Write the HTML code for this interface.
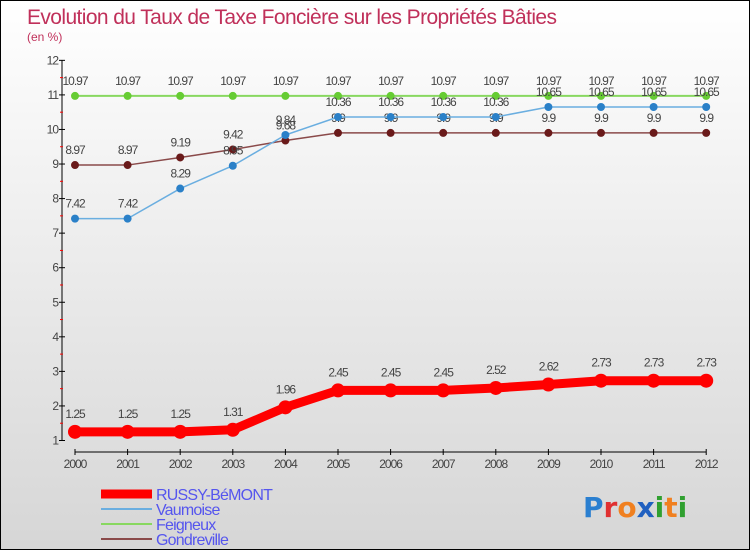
<!DOCTYPE html>
<html><head><meta charset="utf-8"><style>
html,body{margin:0;padding:0}
body{width:750px;height:550px;overflow:hidden;font-family:"Liberation Sans",sans-serif}
#wrap{position:relative;width:748px;height:548px;border:1px solid #000;background:linear-gradient(#ffffff,#d6d6d6)}
</style></head><body>
<div id="wrap">
<svg id="chart" width="748" height="548" style="position:absolute;left:0;top:0">
<text x="26" y="23" font-size="21" fill="#c0305a" letter-spacing="-0.6">Evolution du Taux de Taxe Foncière sur les Propriétés Bâties</text>
<text x="26" y="40" font-size="12" fill="#c0305a">(en %)</text>
<g id="axes"></g><g id="series"></g><g id="legend"></g>
<text x="582" y="516" font-size="28" font-weight="bold" font-family="DejaVu Sans,sans-serif"><tspan fill="#2a7fd0">P</tspan><tspan fill="#e03030">r</tspan><tspan fill="#f08020">o</tspan><tspan fill="#2060c0">x</tspan><tspan fill="#30a030">i</tspan><tspan fill="#f08020">t</tspan><tspan fill="#30a030">i</tspan></text>
</svg>
</div>
<script>
const years=[2000,2001,2002,2003,2004,2005,2006,2007,2008,2009,2010,2011,2012];
const russy=[1.25,1.25,1.25,1.31,1.96,2.45,2.45,2.45,2.52,2.62,2.73,2.73,2.73];
const vaumoise=[7.42,7.42,8.29,8.95,9.84,10.36,10.36,10.36,10.36,10.65,10.65,10.65,10.65];
const feigneux=[10.97,10.97,10.97,10.97,10.97,10.97,10.97,10.97,10.97,10.97,10.97,10.97,10.97];
const gondreville=[8.97,8.97,9.19,9.42,9.68,9.9,9.9,9.9,9.9,9.9,9.9,9.9,9.9];
const yTicks=[1,2,3,4,5,6,7,8,9,10,11,12];
const NS="http://www.w3.org/2000/svg";
const X=i=>74+i*52.6;
const Y=v=>439.5-(v-1)*34.56;
function mk(tag,attrs,parent,txt){const e=document.createElementNS(NS,tag);for(const k in attrs)e.setAttribute(k,attrs[k]);if(txt!==undefined)e.textContent=txt;parent.appendChild(e);return e;}
const axes=document.getElementById('axes');
let yl=mk('line',{x1:61,y1:Y(12),x2:61,y2:Y(1),stroke:'#000'},axes);


yTicks.forEach(t=>{
  mk('line',{x1:58,y1:Y(t),x2:64,y2:Y(t),stroke:'#000'},axes);
  if(t<12)mk('line',{x1:59,y1:Y(t+0.5),x2:62,y2:Y(t+0.5),stroke:'#f00'},axes);
  const l=mk('text',{x:57,y:Y(t)+4,'font-size':12,fill:'#444','text-anchor':'end','letter-spacing':'-1'},axes,t);
  
  
});
let xl=mk('line',{x1:X(0),y1:451,x2:X(12),y2:451,stroke:'#000'},axes);


years.forEach((yr,i)=>{
  mk('line',{x1:X(i),y1:448,x2:X(i),y2:454,stroke:'#000'},axes);
  const l=mk('text',{x:X(i),y:467,'font-size':12,fill:'#444','text-anchor':'middle','letter-spacing':'-1'},axes,yr);
  
  
});
const series=[
 {name:'feigneux',vals:feigneux,color:'#88d860',dot:'#66cc33',w:2,r:4},
 {name:'gondreville',vals:gondreville,color:'#8a4a4a',dot:'#6a1a1a',w:1.5,r:4},
 {name:'vaumoise',vals:vaumoise,color:'#6aaee0',dot:'#2a80c8',w:1.5,r:4},
 {name:'russy-bemont',vals:russy,color:'#ff0000',dot:'#ff0000',w:9,r:7}
];
const sg=document.getElementById('series');
series.forEach(s=>{
  const g=mk('g',{},sg);
  
  
  const p=mk('polyline',{points:s.vals.map((v,i)=>X(i)+','+Y(v)).join(' '),fill:'none',stroke:s.color,'stroke-width':s.w,'stroke-linejoin':'round'},g);
  
  
  s.vals.forEach((v,i)=>{
    const c=mk('circle',{cx:X(i),cy:Y(v),r:s.r,fill:s.dot},g);
    
    
    const t=mk('text',{x:X(i),y:Y(v)-(s.r+7),'font-size':12,fill:'#444','text-anchor':'middle','letter-spacing':'-1'},g,v);
    
    
  });
});
const lg=document.getElementById('legend');
const items=[['RUSSY-BéMONT','#ff0000',9],['Vaumoise','#6aaee0',2],['Feigneux','#88d860',2],['Gondreville','#8a4a4a',2]];
items.forEach((it,i)=>{
  const y=493+i*15;
  const g=mk('g',{},lg);
  
  
  mk('line',{x1:100,y1:y,x2:151,y2:y,stroke:it[1],'stroke-width':it[2]},g);
  mk('text',{x:155,y:y+6,'font-size':16,fill:'#5555ee','letter-spacing':'-0.8'},g,it[0]);
});
</script>
</body></html>
